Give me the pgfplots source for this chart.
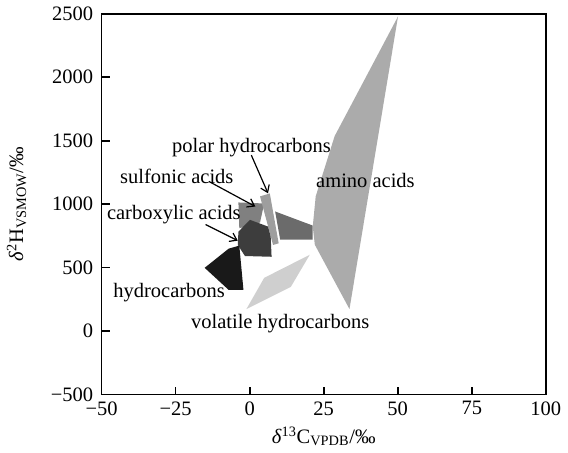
\documentclass[border=0pt]{standalone}
\usepackage{fontspec}
\setmainfont{Liberation Serif}
\usepackage{pgfplots}
\pgfplotsset{compat=1.18}
\usetikzlibrary{arrows.meta}

\begin{document}
\begin{tikzpicture}
\fontsize{15.5}{18}\selectfont
\begin{axis}[
    scale only axis,
    width=336pt,
    height=288pt,
    xmin=-50, xmax=100,
    ymin=-500, ymax=2500,
    xtick={-50,-25,0,25,50,75,100},
    xticklabels={−50,−25,0,25,50,75,100},
    ytick={-500,0,500,1000,1500,2000,2500},
    yticklabels={−500,0,500,1000,1500,2000,2500},
    tick pos=left,
    tick align=inside,
    major tick length=6pt,
    axis line style={line width=1.3pt},
    tick style={line width=1.3pt, black},
    ticklabel style={font=\fontsize{15.5}{18}\selectfont},
    yticklabel style={xshift=-1pt},
    xlabel={\textit{δ}\textsuperscript{13}C\textsubscript{VPDB}/‰},
    ylabel={\textit{δ}\textsuperscript{2}H\textsubscript{VSMOW}/‰},
    label style={font=\fontsize{15.5}{18}\selectfont},
    xlabel style={yshift=2pt},
    ylabel style={yshift=8pt},
]
% amino acids
\addplot[fill=black!33, draw=none, forget plot] coordinates {
    (50.1,2479) (28.7,1536) (22.3,1061) (21.3,823) (22.0,680) (33.7,173)
};
% volatile hydrocarbons
\addplot[fill=black!19, draw=none, forget plot] coordinates {
    (-1.1,173) (4.9,419) (20.3,601) (13.9,348)
};
% sulfonic acids
\addplot[fill=black!50, draw=none, forget plot] coordinates {
    (-3.8,1013) (4.9,1005) (3.5,855) (-3.5,810)
};
% connector
\addplot[fill=black!58, draw=none, forget plot] coordinates {
    (8.6,942) (21.3,831) (21.3,720) (10.3,720)
};
% polar hydrocarbons
\addplot[fill=black!38, draw=none, forget plot] coordinates {
    (3.5,1061) (6.8,1084) (9.8,691) (7.9,678)
};
% carboxylic acids
\addplot[fill=black!76, draw=none, forget plot] coordinates {
    (0.1,876) (6.2,823) (7.1,744) (7.4,585) (-1.6,591) (-4.0,678) (-3.8,783)
};
% hydrocarbons
\addplot[fill=black!90, draw=none, forget plot] coordinates {
    (-15.2,498) (-7.1,649) (-3.5,673) (-2.1,324) (-7.1,324)
};

\node at (axis cs:0.6,1449) {polar hydrocarbons};
\node at (axis cs:-24.6,1219) {sulfonic acids};
\node at (axis cs:-25.6,918) {carboxylic acids};
\node at (axis cs:-27.2,300) {hydrocarbons};
\node at (axis cs:39.1,1187) {amino acids};
\node at (axis cs:10.3,55) {volatile hydrocarbons};

\draw[-{Straight Barb[length=5pt,width=7pt]}, line width=0.9pt] (axis cs:0.55,1386) -- (axis cs:6.2,1085);
\draw[-{Straight Barb[length=5pt,width=7pt]}, line width=0.9pt] (axis cs:-13.8,1179) -- (axis cs:1.9,981);
\draw[-{Straight Barb[length=5pt,width=7pt]}, line width=0.9pt] (axis cs:-14.9,839) -- (axis cs:-4.0,712);
\end{axis}
\end{tikzpicture}
\end{document}
